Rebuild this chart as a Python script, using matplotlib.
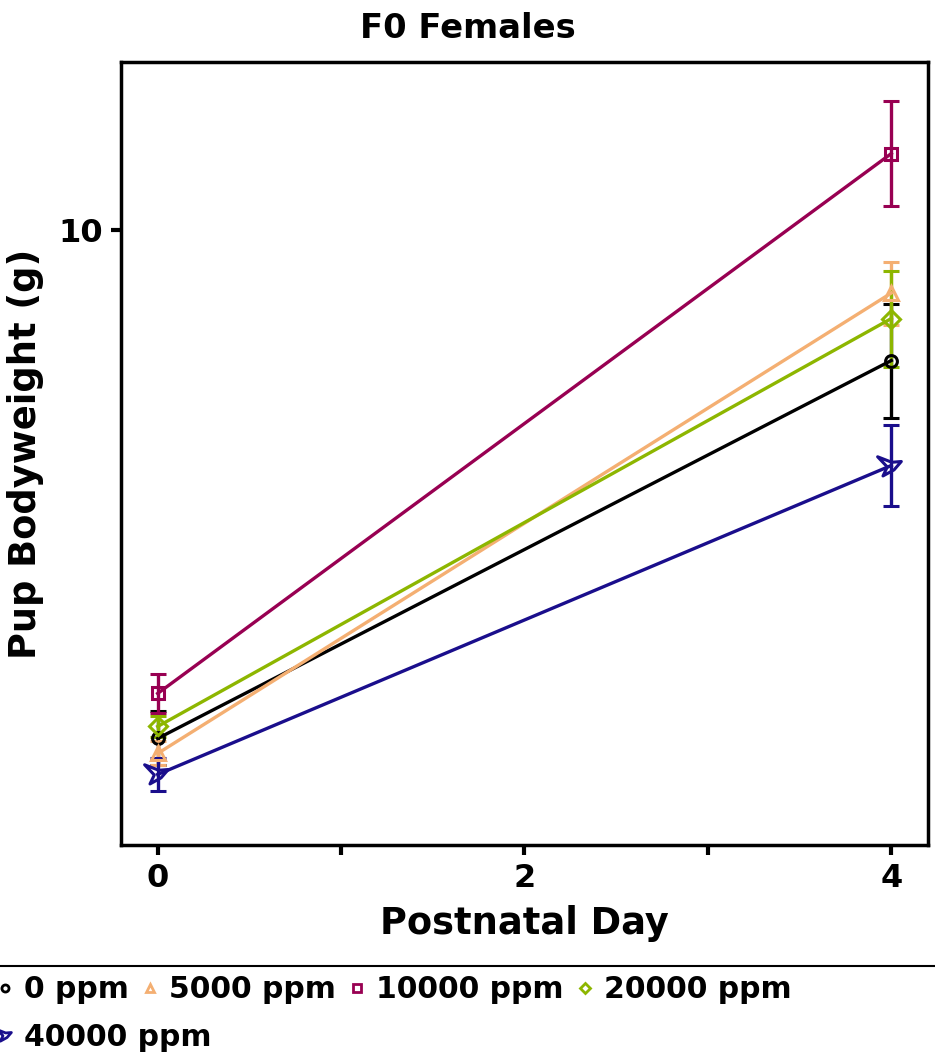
import numpy as np
import matplotlib
matplotlib.use("Agg")
import matplotlib.pyplot as plt
from matplotlib.path import Path
from matplotlib.lines import Line2D

plt.rcParams["font.family"] = ["DejaVu Sans"]
plt.rcParams["font.weight"] = "bold"

# data
days = [0, 4]
groups = ["0 ppm", "5000 ppm", "10000 ppm", "20000 ppm", "40000 ppm"]
mean_0 = [6.61, 9.13]
sem_0 = [0.18, 0.38]
mean_5000 = [6.51, 9.58]
sem_5000 = [0.08, 0.21]
mean_10000 = [6.91, 10.51]
sem_10000 = [0.13, 0.35]
mean_20000 = [6.69, 9.41]
sem_20000 = [0.07, 0.32]
mean_40000 = [6.37, 8.43]
sem_40000 = [0.11, 0.27]

means = [mean_0, mean_5000, mean_10000, mean_20000, mean_40000]
sems = [sem_0, sem_5000, sem_10000, sem_20000, sem_40000]
colors = ["#000000", "#F4AF72", "#980052", "#8DB600", "#1A0E8C"]

# lopsided three pointed hollow star for the top dose
tip_ang = np.deg2rad([27, 145, 228])
tip_r = [0.65, 1.0, 0.75]
inner = np.deg2rad([86, 186, 307])
verts = []
for t, r, i in zip(tip_ang, tip_r, inner):
    verts.append((r * np.cos(t), r * np.sin(t)))
    verts.append((0.25 * np.cos(i), 0.25 * np.sin(i)))
verts.append(verts[0])
codes = [Path.MOVETO] + [Path.LINETO] * (len(verts) - 2) + [Path.CLOSEPOLY]
star = Path(verts, codes)

markers = ["o", "^", "s", "D", star]
msizes = [8.5, 10, 8.5, 9, 20]

fig = plt.figure(figsize=(9.35, 10.57), dpi=100)
ax = fig.add_axes([0.1294, 0.2006, 0.9925 - 0.1294, 0.9413 - 0.2006])

for g, m, s, c, mk, ms in zip(groups, means, sems, colors, markers, msizes):
    ax.errorbar(days, m, yerr=s, color=c, lw=2.4, marker=mk, ms=ms,
                mfc="none", mec=c, mew=2.2, capsize=6, capthick=2.4,
                elinewidth=2.4, label=g)

ax.set_xlim(-0.2, 4.2)
ax.set_ylim(5.9, 11.12)
ax.set_xticks([0, 1, 2, 3, 4])
ax.set_xticklabels(["0", "", "2", "", "4"])
ax.set_yticks([10])
ax.tick_params(axis="both", direction="out", length=7, width=3,
               labelsize=23, pad=6)
for lab in ax.get_xticklabels() + ax.get_yticklabels():
    lab.set_fontweight("bold")
for sp in ax.spines.values():
    sp.set_linewidth(2.5)

fig.text(0.5, 1 - 28 / 1057, "F0 Females", fontsize=24.3, fontweight="bold",
         ha="center", va="center")
ax.set_xlabel("Postnatal Day", fontsize=26.5, fontweight="bold", labelpad=8)
ax.set_ylabel("Pup Bodyweight (g)", fontsize=26.5, fontweight="bold", labelpad=10)

# legend under the plot, wrapped in two rows
handles = [Line2D([], [], color=c, marker=mk, ls="none", mfc="none", mec=c,
                  mew=2, ms=ms * 0.6) for c, mk, ms in zip(colors, markers, msizes)]
kw = dict(frameon=False, loc="center left", borderpad=0, borderaxespad=0,
          handlelength=0.5, handletextpad=0.4, columnspacing=0.45,
          prop={"size": 21.5, "weight": "bold"})
leg1 = fig.legend(handles[:4], groups[:4], ncol=4,
                  bbox_to_anchor=(-0.003, 1 - 990 / 1057), **kw)
leg2 = fig.legend(handles[4:], groups[4:], ncol=1,
                  bbox_to_anchor=(-0.003, 1 - 1037 / 1057), **kw)
fig.add_artist(Line2D([0, 1], [1 - 966 / 1057] * 2, transform=fig.transFigure,
                      color="black", lw=1.5))

fig.savefig("out.png", dpi=100)
